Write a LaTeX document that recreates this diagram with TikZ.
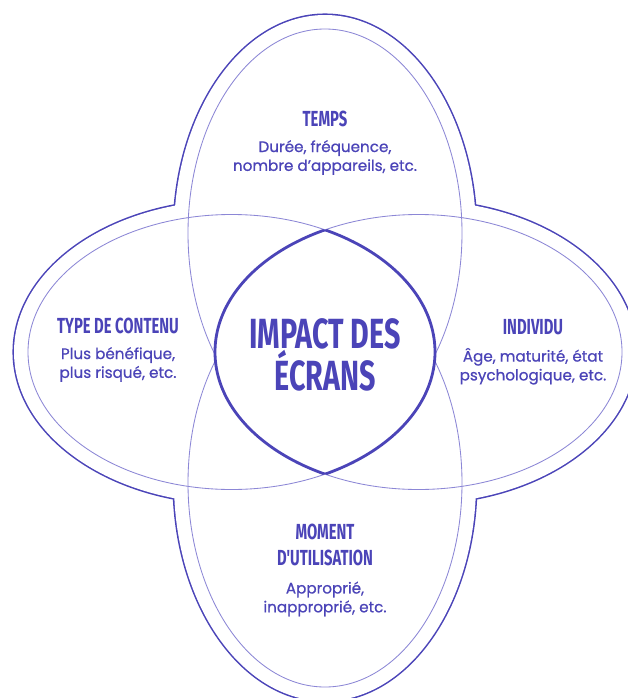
\documentclass[tikz,border=0pt]{standalone}
\usepackage{fontspec}
\setmainfont{Poppins}[FakeBold=0.7]
\newfontfamily\headfont[FakeStretch=0.68]{Fira Sans}
\usetikzlibrary{positioning}
\definecolor{ink}{HTML}{4B44B8}
\definecolor{faint}{HTML}{8C87D6}

\begin{document}
\begin{tikzpicture}[x=0.025cm, y=-0.025cm,
    head/.style={font=\headfont\bfseries\fontsize{15.5}{18}\selectfont, text=ink, align=center, inner sep=0pt},
    big/.style={font=\headfont\bfseries\fontsize{30}{27.5}\selectfont, text=ink, align=center, inner sep=0pt},
    body/.style={font=\fontsize{10.8}{13.4}\selectfont, text=ink, align=center, inner sep=0pt}]
  \useasboundingbox (0,0) rectangle (628,698);
  \clip (0,0) rectangle (628,698);

  % outer outline of the four leaves
  \foreach \cx/\cy/\rx/\ry in {325/233/151/218, 325/483/151/218, 231.5/352/217.5/151.5, 418.5/352/217.5/151.5}
    \draw[ink, line width=2.2pt] (\cx,\cy) ellipse [x radius=\rx, y radius=\ry];
  \foreach \cx/\cy/\rx/\ry in {325/233/151/218, 325/483/151/218, 231.5/352/217.5/151.5, 418.5/352/217.5/151.5}
    \fill[white] (\cx,\cy) ellipse [x radius=\rx, y radius=\ry];

  % thin leaves
  \foreach \cx/\cy/\rx/\ry in {325/233/137/204, 325/483/137/204, 231.5/352/203.5/137.5, 418.5/352/203.5/137.5}
    \draw[faint, line width=0.6pt] (\cx,\cy) ellipse [x radius=\rx, y radius=\ry];

  % centre lens
  \begin{scope}
    \clip (231.5,352) ellipse [x radius=203.5, y radius=137.5];
    \fill[white] (418.5,352) ellipse [x radius=203.5, y radius=137.5];
    \draw[ink, line width=2pt] (418.5,352) ellipse [x radius=203.5, y radius=137.5];
  \end{scope}
  \begin{scope}
    \clip (418.5,352) ellipse [x radius=203.5, y radius=137.5];
    \draw[ink, line width=2pt] (231.5,352) ellipse [x radius=203.5, y radius=137.5];
  \end{scope}

  \node[big] (impact) at (325,355) {IMPACT DES\\ÉCRANS};

  \node[head] (temps) at (325,119) {TEMPS};
  \node[body, below=9pt of temps] (tempsTxt) {Durée, fréquence,\\nombre d'appareils, etc.};

  \node[head] (contenu) at (118,326) {TYPE DE CONTENU};
  \node[body, below=9pt of contenu] (contenuTxt) {Plus bénéfique,\\plus risqué, etc.};

  \node[head] (individu) at (533,327) {INDIVIDU};
  \node[body, below=9pt of individu] (individuTxt) {Âge, maturité, état\\psychologique, etc.};

  \node[head] (moment) at (325,545) {MOMENT\\D'UTILISATION};
  \node[body, below=11pt of moment] (momentTxt) {Approprié,\\inapproprié, etc.};
\end{tikzpicture}
\end{document}
